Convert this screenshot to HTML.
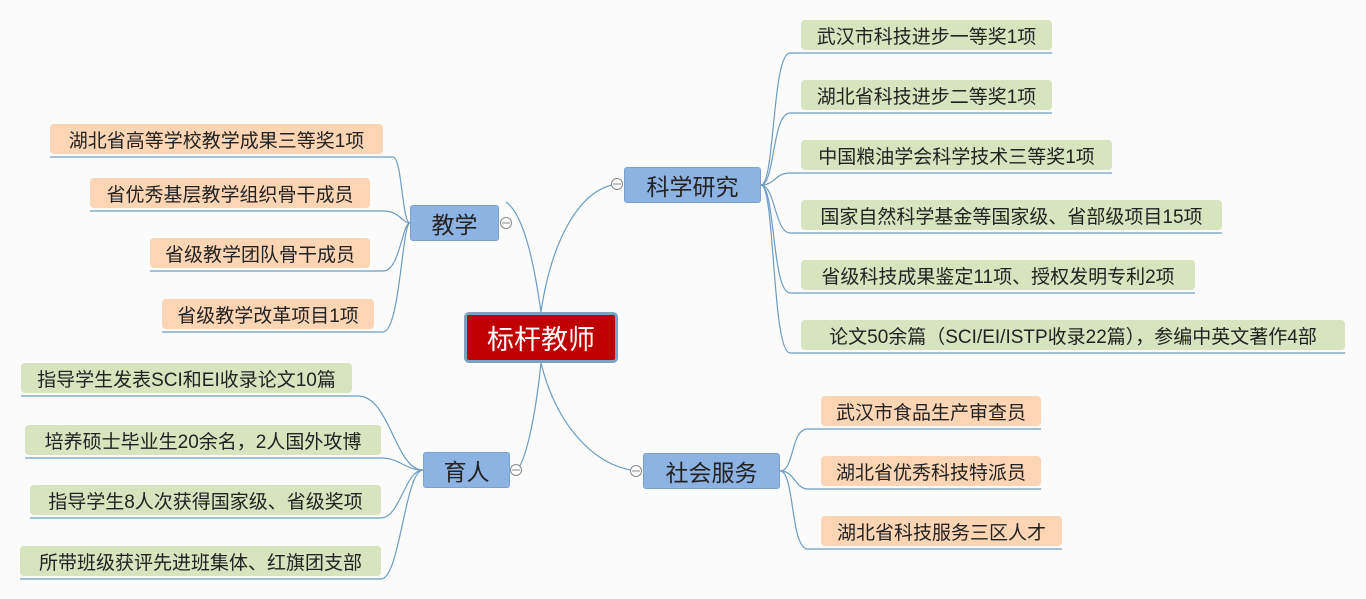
<!DOCTYPE html>
<html><head><meta charset="utf-8"><style>
*{margin:0;padding:0;box-sizing:border-box}
body{width:1366px;height:599px;background:#fbfbfb;position:relative;overflow:hidden;font-family:"Liberation Sans","Noto Sans CJK SC",sans-serif}
.n{position:absolute;display:flex;align-items:center;justify-content:center;color:#222;white-space:nowrap}
.g{background:#d7e4bd;border-radius:4px;font-size:19px}
.p{background:#fcd5b4;border-radius:4px;font-size:19px}
.b{background:#8db3e2;border:1px solid #7aa2cf;border-radius:3px;font-size:23px}
.c{background:#c00000;border:3px solid #7ba3c6;border-radius:5px;color:#fff;font-size:27px}
svg{position:absolute;left:0;top:0}
</style></head><body>
<svg width="1366" height="599" fill="none" stroke="#6e9cc2" stroke-width="1.2">
<path d="M541 312 C535 270 525 215 506 202"/>
<path d="M541 312 C550 250 575 190 617 184"/>
<path d="M541 363 C535 420 525 465 516 470"/>
<path d="M541 363 C555 420 590 465 636 471"/>
<path d="M50 157 H393 C402 157 402 223 410 223"/>
<path d="M90 211 H383 C400 211 402 223 410 223"/>
<path d="M150 271 H383 C400 271 402 223 410 223"/>
<path d="M162 332 H383 C400 332 402 223 410 223"/>
<path d="M761 185 C775 185 772 53 790 53 H1052"/>
<path d="M761 185 C775 185 772 113 790 113 H1052"/>
<path d="M761 185 C775 185 775 173 790 173 H1112"/>
<path d="M761 185 C775 185 775 233 790 233 H1222"/>
<path d="M761 185 C775 185 772 293 790 293 H1195"/>
<path d="M761 185 C775 185 772 353 790 353 H1345"/>
<path d="M21 396 H358 C390 396 395 470 423 470"/>
<path d="M25 458 H381 C400 458 405 470 423 470"/>
<path d="M30 518 H381 C400 518 405 470 423 470"/>
<path d="M20 579 H381 C400 579 405 470 423 470"/>
<path d="M780 471 C795 471 790 429 808 429 H1041"/>
<path d="M780 471 C795 471 795 489 808 489 H1041"/>
<path d="M780 471 C795 471 790 549 808 549 H1062"/>
</svg>
<svg width="1366" height="599" stroke="#888" stroke-width="1" fill="#fff">
<circle cx="506" cy="223" r="5.5"/><line x1="502" y1="223" x2="510" y2="223"/>
<circle cx="617" cy="184" r="5.5"/><line x1="613" y1="184" x2="621" y2="184"/>
<circle cx="516" cy="470" r="5.5"/><line x1="512" y1="470" x2="520" y2="470"/>
<circle cx="636" cy="471" r="5.5"/><line x1="632" y1="471" x2="640" y2="471"/>
</svg>
<div class="n c" style="left:464px;top:312px;width:154px;height:51px">标杆教师</div>
<div class="n b" style="left:410px;top:205px;width:89px;height:36px">教学</div>
<div class="n b" style="left:624px;top:167px;width:137px;height:36px">科学研究</div>
<div class="n b" style="left:423px;top:452px;width:87px;height:36px">育人</div>
<div class="n b" style="left:643px;top:453px;width:137px;height:36px">社会服务</div>

<div class="n p" style="left:50px;top:124px;width:333px;height:30px">湖北省高等学校教学成果三等奖1项</div>
<div class="n p" style="left:90px;top:178px;width:280px;height:30px">省优秀基层教学组织骨干成员</div>
<div class="n p" style="left:150px;top:238px;width:220px;height:30px">省级教学团队骨干成员</div>
<div class="n p" style="left:162px;top:299px;width:212px;height:30px">省级教学改革项目1项</div>

<div class="n g" style="left:801px;top:20px;width:251px;height:30px">武汉市科技进步一等奖1项</div>
<div class="n g" style="left:801px;top:80px;width:251px;height:30px">湖北省科技进步二等奖1项</div>
<div class="n g" style="left:801px;top:140px;width:311px;height:30px">中国粮油学会科学技术三等奖1项</div>
<div class="n g" style="left:801px;top:200px;width:421px;height:30px">国家自然科学基金等国家级、省部级项目15项</div>
<div class="n g" style="left:801px;top:260px;width:394px;height:30px">省级科技成果鉴定11项、授权发明专利2项</div>
<div class="n g" style="left:801px;top:320px;width:544px;height:30px">论文50余篇（SCI/EI/ISTP收录22篇），参编中英文著作4部</div>

<div class="n g" style="left:21px;top:363px;width:331px;height:30px">指导学生发表SCI和EI收录论文10篇</div>
<div class="n g" style="left:25px;top:425px;width:356px;height:30px">培养硕士毕业生20余名，2人国外攻博</div>
<div class="n g" style="left:30px;top:485px;width:351px;height:30px">指导学生8人次获得国家级、省级奖项</div>
<div class="n g" style="left:20px;top:546px;width:361px;height:30px">所带班级获评先进班集体、红旗团支部</div>

<div class="n p" style="left:821px;top:396px;width:220px;height:30px">武汉市食品生产审查员</div>
<div class="n p" style="left:821px;top:456px;width:220px;height:30px">湖北省优秀科技特派员</div>
<div class="n p" style="left:821px;top:516px;width:241px;height:30px">湖北省科技服务三区人才</div>
</body></html>
